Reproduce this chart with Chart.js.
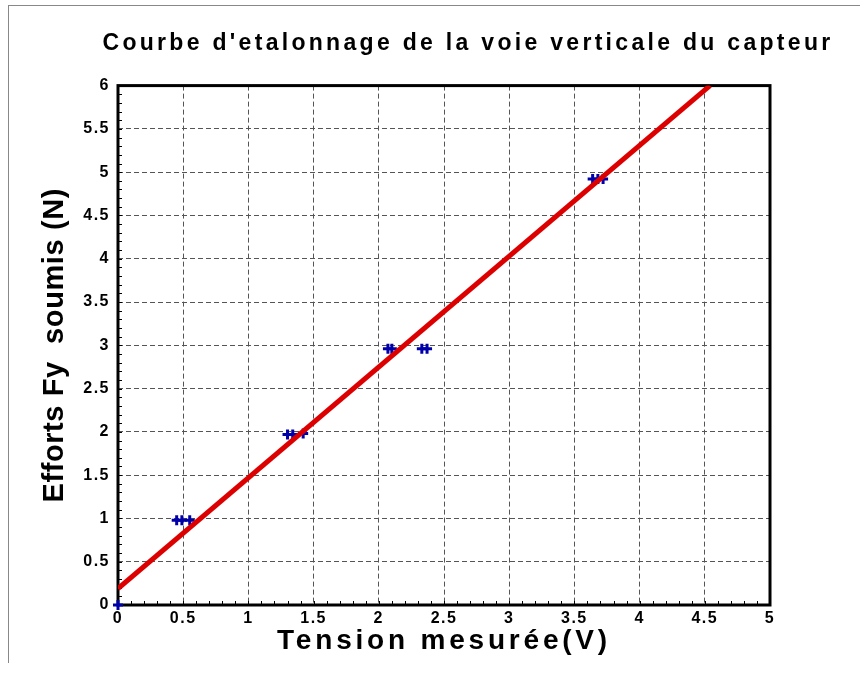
<!DOCTYPE html>
<html>
<head>
<meta charset="utf-8">
<script src="https://cdn.jsdelivr.net/npm/chart.js@4.4.0/dist/chart.umd.min.js"></script>
<style>
  html, body { margin: 0; padding: 0; background: #fff; }
  #wrap { position: relative; width: 860px; height: 675px; overflow: hidden; }
  #frame { position: absolute; left: 8px; top: 5px; right: -2px; bottom: 12px;
           border-top: 1px solid #888; border-left: 1px solid #888; }
  canvas { position: absolute; left: 0; top: 0; }
</style>
</head>
<body>
<div id="wrap">
  <div id="frame"></div>
  <canvas id="chart" width="860" height="675"></canvas>
</div>
<script>
// texts
const chartTitle = "Courbe d'etalonnage de la voie verticale du capteur";
const xTitle = "Tension mesurée(V)";
const yTitle = "Efforts Fy  soumis (N)";

// measured points (tension in V, effort in N)
const tensionV = [0, 0.45, 0.49, 0.55, 1.30, 1.34, 1.42, 2.07, 2.10, 2.33, 2.37, 3.64, 3.68, 3.72];
const effortN  = [0, 0.98, 0.98, 0.98, 1.97, 1.97, 1.98, 2.96, 2.96, 2.96, 2.96, 4.92, 4.92, 4.92];

// calibration line end points
const fitX = [0, 4.54];
const fitY = [0.19, 6];

// axes
const xRange = [0, 5];
const yRange = [0, 6];
const majorStep = 0.5;
const minorStep = 0.1;

const FONT = "'Liberation Sans', Arial, sans-serif";

// letter spacing for canvas text (the original uses tracked bold text)
function spaced(fn, px, dx) {
  return function (...args) {
    const ctx = this.ctx;
    ctx.save();
    ctx.letterSpacing = px;
    if (dx) ctx.translate(dx, 0);
    fn.apply(this, args);
    ctx.restore();
  };
}

const letterSpacing = {
  id: "letterSpacing",
  beforeDraw(chart) {
    if (chart.$spaced) return;
    chart.$spaced = true;
    const x = chart.scales.x, y = chart.scales.y;
    x.drawTitle = spaced(x.drawTitle, "3.8px");
    y.drawTitle = spaced(y.drawTitle, "0.6px");
    x.drawLabels = spaced(x.drawLabels, "1.5px");
    y.drawLabels = spaced(y.drawLabels, "1.5px");
    chart.titleBlock.draw = spaced(chart.titleBlock.draw, "3.3px", 78);
  }
};

// black frame + small inward ticks on left and bottom axes
const frameAndTicks = {
  id: "frameAndTicks",
  beforeDatasetsDraw(chart) {
    const { ctx, chartArea: a, scales } = chart;
    ctx.save();
    ctx.strokeStyle = "#000";
    ctx.lineWidth = 1;
    ctx.beginPath();
    const nx = Math.round((xRange[1] - xRange[0]) / minorStep);
    for (let i = 1; i < nx; i++) {
      const px = Math.round(scales.x.getPixelForValue(xRange[0] + i * minorStep)) + 0.5;
      ctx.moveTo(px, a.bottom);
      ctx.lineTo(px, a.bottom - 4);
    }
    const ny = Math.round((yRange[1] - yRange[0]) / minorStep);
    for (let i = 1; i < ny; i++) {
      const py = Math.round(scales.y.getPixelForValue(yRange[0] + i * minorStep)) + 0.5;
      ctx.moveTo(a.left, py);
      ctx.lineTo(a.left + 4, py);
    }
    ctx.stroke();
    ctx.lineWidth = 3;
    ctx.strokeRect(a.left, a.top, a.right - a.left, a.bottom - a.top);
    ctx.restore();
  }
};

const ctx = document.getElementById("chart").getContext("2d");
new Chart(ctx, {
  type: "scatter",
  data: {
    datasets: [
      {
        label: "Droite d'etalonnage",
        type: "line",
        data: fitX.map((x, i) => ({ x: x, y: fitY[i] })),
        borderColor: "#dd0000",
        borderWidth: 5,
        pointRadius: 0,
        fill: false,
        order: 0
      },
      {
        label: "Mesures",
        data: tensionV.map((x, i) => ({ x: x, y: effortN[i] })),
        pointStyle: "cross",
        pointRadius: 5,
        borderWidth: 3,
        borderColor: "#0000aa",
        backgroundColor: "#0000aa",
        clip: false,
        order: 1
      }
    ]
  },
  options: {
    responsive: false,
    animation: false,
    events: [],
    layout: { padding: { left: 10, right: 90, top: 0, bottom: 0 } },
    plugins: {
      legend: { display: false },
      tooltip: { enabled: false },
      title: {
        display: true,
        text: chartTitle,
        color: "#000",
        font: { family: FONT, size: 23, weight: "bold", lineHeight: 1.2 },
        padding: { top: 30, bottom: 28 }
      }
    },
    scales: {
      x: {
        type: "linear",
        min: xRange[0],
        max: xRange[1],
        afterFit(scale) { scale.height = 70; },
        ticks: {
          stepSize: majorStep,
          color: "#000",
          padding: 4,
          maxRotation: 0,
          font: { family: FONT, size: 16, weight: "bold" },
          callback: (v) => String(Math.round(v * 10) / 10)
        },
        grid: { color: "#555", lineWidth: 1, drawTicks: false },
        border: { display: false, dash: [5, 3] },
        title: {
          display: true,
          text: xTitle,
          color: "#000",
          font: { family: FONT, size: 28, weight: "bold", lineHeight: 1.2 },
          padding: { top: 0, bottom: 17 }
        }
      },
      y: {
        type: "linear",
        min: yRange[0],
        max: yRange[1],
        afterFit(scale) { scale.width = 108; },
        ticks: {
          stepSize: majorStep,
          color: "#000",
          padding: 8,
          font: { family: FONT, size: 16, weight: "bold" },
          callback: (v) => String(Math.round(v * 10) / 10)
        },
        grid: { color: "#555", lineWidth: 1, drawTicks: false },
        border: { display: false, dash: [5, 3] },
        title: {
          display: true,
          text: yTitle,
          color: "#000",
          font: { family: FONT, size: 29, weight: "bold", lineHeight: 1.2 },
          padding: { top: 28, bottom: 0 }
        }
      }
    }
  },
  plugins: [letterSpacing, frameAndTicks]
});
</script>
</body>
</html>
